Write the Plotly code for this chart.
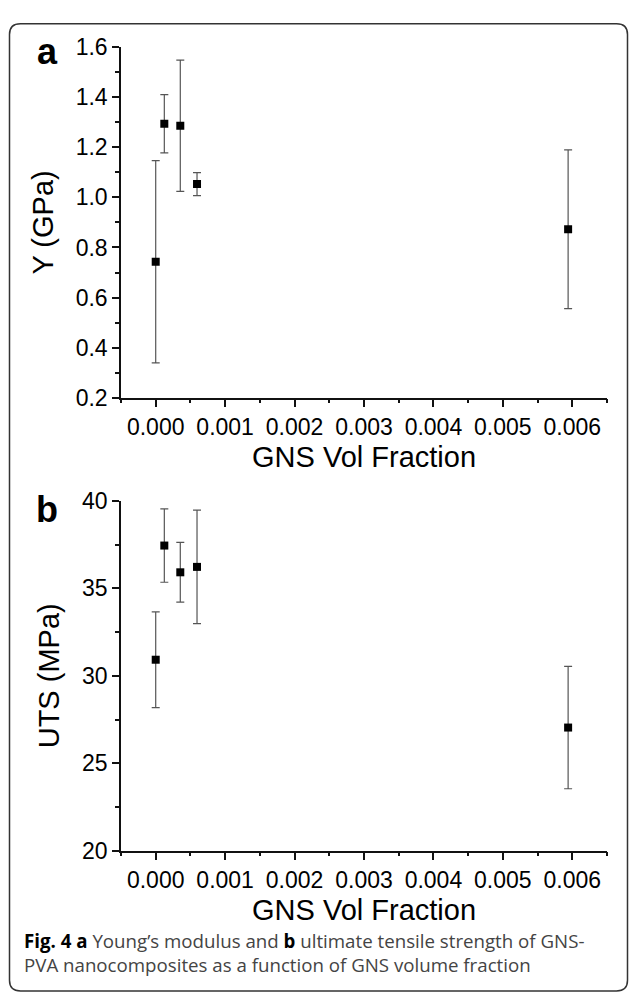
import plotly.graph_objects as go

# ---------------- data ----------------
gns_vol_fraction = [0.0, 0.000124, 0.000354, 0.000595, 0.00594]

youngs_modulus_gpa = [0.743, 1.294, 1.286, 1.053, 0.873]
youngs_modulus_err = [0.404, 0.116, 0.262, 0.046, 0.317]

uts_mpa = [30.92, 37.45, 35.92, 36.23, 27.04]
uts_err = [2.74, 2.10, 1.71, 3.25, 3.50]

x_tickvals = [0.000, 0.001, 0.002, 0.003, 0.004, 0.005, 0.006]
x_ticktext = ["0.000", "0.001", "0.002", "0.003", "0.004", "0.005", "0.006"]
x_minor = [-0.0005, 0.0005, 0.0015, 0.0025, 0.0035, 0.0045, 0.0055, 0.0065]

ya_tickvals = [0.2, 0.4, 0.6, 0.8, 1.0, 1.2, 1.4, 1.6]
ya_ticktext = ["0.2", "0.4", "0.6", "0.8", "1.0", "1.2", "1.4", "1.6"]
ya_minor = [0.3, 0.5, 0.7, 0.9, 1.1, 1.3, 1.5]

yb_tickvals = [20, 25, 30, 35, 40]
yb_ticktext = ["20", "25", "30", "35", "40"]
yb_minor = [22.5, 27.5, 32.5, 37.5]

x_title = "GNS Vol Fraction"
ya_title = "Y (GPa)"
yb_title = "UTS (MPa)"

caption = ("<span style='color:#000'><b>Fig. 4 a</b></span> Young’s modulus and "
           "<span style='color:#000'><b>b</b></span> ultimate tensile strength of GNS-<br>"
           "PVA nanocomposites as a function of GNS volume fraction")

# ---------------- figure ----------------
W, H = 629, 1000
def px(x): return x / W
def py(y): return 1 - y / H

AX = "#111111"
FONT = "Liberation Sans, Arial, sans-serif"

fig = go.Figure()
err_style = dict(type="data", color="#555555", thickness=1.2, width=4)
fig.add_trace(go.Scatter(
    x=gns_vol_fraction, y=youngs_modulus_gpa, mode="markers",
    error_y=dict(array=youngs_modulus_err, **err_style),
    marker=dict(symbol="square", size=8, color="black"),
    xaxis="x", yaxis="y", showlegend=False))
fig.add_trace(go.Scatter(
    x=gns_vol_fraction, y=uts_mpa, mode="markers",
    error_y=dict(array=uts_err, **err_style),
    marker=dict(symbol="square", size=8, color="black"),
    xaxis="x2", yaxis="y2", showlegend=False))

def xaxis(anchor):
    return dict(
        domain=[px(121), px(607)], range=[-0.0005, 0.0065], anchor=anchor,
        tickvals=x_tickvals, ticktext=x_ticktext,
        ticks="outside", ticklen=8, tickwidth=1.5, tickcolor=AX,
        showline=True, linecolor=AX, linewidth=1.5,
        showgrid=False, zeroline=False,
        tickfont=dict(family=FONT, size=23, color="black"),
        title=dict(text=x_title, font=dict(family=FONT, size=29, color="black"), standoff=8),
        minor=dict(tickvals=x_minor, ticks="outside", ticklen=4, tickwidth=1.5,
                   tickcolor=AX, showgrid=False),
    )

def yaxis(anchor, dom, rng, tv, tt, mn, title):
    return dict(
        domain=dom, range=rng, anchor=anchor,
        tickvals=tv, ticktext=tt,
        ticks="outside", ticklen=7, tickwidth=1.5, tickcolor=AX,
        showline=True, linecolor=AX, linewidth=1.5,
        showgrid=False, zeroline=False,
        tickfont=dict(family=FONT, size=23, color="black"),
        title=dict(text=title, font=dict(family=FONT, size=29, color="black"), standoff=14),
        minor=dict(tickvals=mn, ticks="outside", ticklen=4, tickwidth=1.5,
                   tickcolor=AX, showgrid=False),
    )

# rounded border
x0, y0, x1, y1, r = 9.5, 11, 627.5, 1004, 11
path = (f"M {px(x0)},{py(y0 + r)} Q {px(x0)},{py(y0)} {px(x0 + r)},{py(y0)} "
        f"L {px(x1 - r)},{py(y0)} Q {px(x1)},{py(y0)} {px(x1)},{py(y0 + r)} "
        f"L {px(x1)},{py(y1 - r)} Q {px(x1)},{py(y1)} {px(x1 - r)},{py(y1)} "
        f"L {px(x0 + r)},{py(y1)} Q {px(x0)},{py(y1)} {px(x0)},{py(y1 - r)} Z")

fig.update_layout(
    width=W, height=H, margin=dict(l=0, r=0, t=0, b=0),
    paper_bgcolor="white", plot_bgcolor="white", showlegend=False,
    xaxis=xaxis("y"),
    yaxis=yaxis("x", [py(395), py(35)], [0.2, 1.6], ya_tickvals, ya_ticktext, ya_minor, ya_title),
    xaxis2=xaxis("y2"),
    yaxis2=yaxis("x2", [py(860), py(501)], [20, 40], yb_tickvals, yb_ticktext, yb_minor, yb_title),
    shapes=[dict(type="path", path=path, xref="paper", yref="paper",
                 line=dict(color="#333333", width=1.5), fillcolor="rgba(0,0,0,0)")],
    annotations=[
        dict(text="<b>a</b>", x=px(47), y=py(40), xref="paper", yref="paper",
             xanchor="center", yanchor="middle", showarrow=False,
             font=dict(family=FONT, size=36, color="black")),
        dict(text="<b>b</b>", x=px(47), y=py(510), xref="paper", yref="paper",
             xanchor="center", yanchor="middle", showarrow=False,
             font=dict(family=FONT, size=36, color="black")),
        dict(text=caption, x=px(22), y=py(965), xref="paper", yref="paper",
             xanchor="left", yanchor="middle", align="left", showarrow=False,
             font=dict(family="Open Sans, Noto Sans, sans-serif", size=18.7, color="#444444")),
    ],
)

fig.write_html("out.html", config={"displayModeBar": False},
               post_script="document.body.style.margin='0px';document.body.style.overflow='hidden';")
